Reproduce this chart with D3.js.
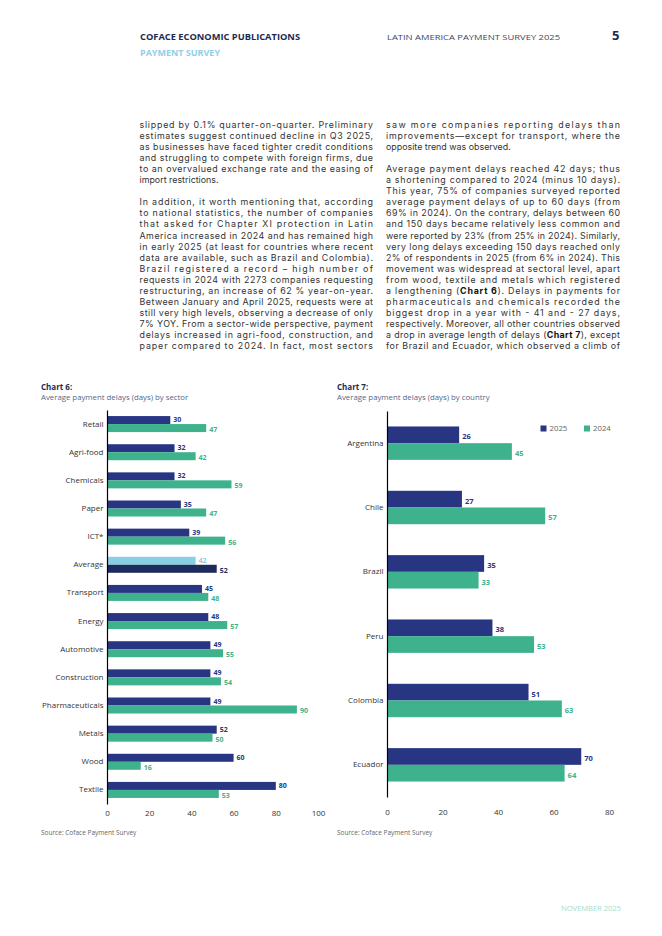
<!doctype html>
<html>
<head>
<meta charset="utf-8">
<style>
  body { margin: 0; background: #fff; }
</style>
<script src="https://d3js.org/d3.v7.min.js"></script>
</head>
<body>
<svg width="662" height="936" font-family="'Open Sans', 'DejaVu Sans', sans-serif"></svg>
<script>
// ---- data ----
var sectors = ["Retail", "Agri-food", "Chemicals", "Paper", "ICT*", "Average", "Transport",
  "Energy", "Automotive", "Construction", "Pharmaceuticals", "Metals", "Wood", "Textile"];
var sector2025 = [30, 32, 32, 35, 39, 42, 45, 48, 49, 49, 49, 52, 60, 80];
var sector2024 = [47, 42, 59, 47, 56, 52, 48, 57, 55, 54, 90, 50, 16, 53];
var sectorTicks = [0, 20, 40, 60, 80, 100];

var countries = ["Argentina", "Chile", "Brazil", "Peru", "Colombia", "Ecuador"];
var country2025 = [26, 27, 35, 38, 51, 70];
var country2024 = [45, 57, 33, 53, 63, 64];
var countryTicks = [0, 20, 40, 60, 80];

var years = ["2025", "2024"];

var leftColumn = [
  "slipped by 0.1% quarter-on-quarter. Preliminary",
  "estimates suggest continued decline in Q3 2025,",
  "as businesses have faced tighter credit conditions",
  "and struggling to compete with foreign firms, due",
  "to an overvalued exchange rate and the easing of",
  "import restrictions.",
  "",
  "In addition, it worth mentioning that, according",
  "to national statistics, the number of companies",
  "that asked for Chapter XI protection in Latin",
  "America increased in 2024 and has remained high",
  "in early 2025 (at least for countries where recent",
  "data are available, such as Brazil and Colombia).",
  "Brazil registered a record \u2013 high number of",
  "requests in 2024 with 2273 companies requesting",
  "restructuring, an increase of 62 % year-on-year.",
  "Between January and April 2025, requests were at",
  "still very high levels, observing a decrease of only",
  "7% YOY.  From a sector-wide perspective, payment",
  "delays increased in agri-food, construction, and",
  "paper compared to 2024. In fact, most sectors"
];
var rightColumn = [
  "saw more companies reporting delays than",
  "improvements\u2014except for transport, where the",
  "opposite trend was observed.",
  "",
  "Average payment delays reached 42 days; thus",
  "a shortening compared to 2024 (minus 10 days).",
  "This year, 75% of companies surveyed reported",
  "average payment delays of up to 60 days (from",
  "69% in 2024). On the contrary, delays between 60",
  "and 150 days became relatively less common and",
  "were reported by 23% (from 25% in 2024). Similarly,",
  "very long delays exceeding 150 days reached only",
  "2% of respondents in 2025 (from 6% in 2024). This",
  "movement was widespread at sectoral level, apart",
  "from wood, textile and metals which registered",
  "a lengthening (**Chart 6**). Delays in payments for",
  "pharmaceuticals and chemicals recorded the",
  "biggest drop in a year with - 41 and - 27 days,",
  "respectively. Moreover, all other countries observed",
  "a drop in average length of delays (**Chart 7**), except",
  "for Brazil and Ecuador, which observed a climb of"
];

// ---- colours ----
var navy = "#283583", green = "#3db28c", avgLight = "#86cfe4", avgDark = "#1d2b5c";
var ink = "#1d2a52", body = "#333333";

var svg = d3.select("svg");

// ---- header ----
svg.append("text").attr("x", 140).attr("y", 39.5).text("COFACE ECONOMIC PUBLICATIONS")
  .attr("font-size", 8).attr("font-weight", 700).attr("fill", ink)
  .attr("textLength", 160).attr("lengthAdjust", "spacingAndGlyphs");
svg.append("text").attr("x", 140).attr("y", 55.5).text("PAYMENT SURVEY")
  .attr("font-size", 8).attr("font-weight", 700).attr("fill", "#8fd0e8")
  .attr("textLength", 80).attr("lengthAdjust", "spacingAndGlyphs");
svg.append("text").attr("x", 387).attr("y", 39.5).text("LATIN AMERICA PAYMENT SURVEY 2025")
  .attr("font-size", 8).attr("fill", "#3b4766")
  .attr("textLength", 173).attr("lengthAdjust", "spacingAndGlyphs");
svg.append("text").attr("x", 612).attr("y", 39.5).text("5")
  .attr("font-size", 13).attr("font-weight", 700).attr("fill", ink);

// ---- body text (justified with textLength, except paragraph ends) ----
function column(lines, x, width) {
  var g = svg.append("g").attr("font-size", 8.9).attr("fill", body)
    .attr("font-family", "Inter, 'Open Sans', sans-serif");
  lines.forEach(function(line, i) {
    if (!line) return;
    var t = g.append("text").attr("x", x).attr("y", 128 + i * 11.05);
    line.split(/(\*\*[^*]+\*\*)/).forEach(function(part) {
      if (!part) return;
      var bold = part.indexOf("**") === 0;
      t.append("tspan").attr("font-weight", bold ? 700 : null).attr("fill", bold ? "#111" : null)
        .text(bold ? part.slice(2, -2) : part);
    });
    if (lines[i + 1] !== "") t.attr("textLength", width).attr("lengthAdjust", "spacing");
  });
}
column(leftColumn, 139.5, 233.5);
column(rightColumn, 386, 234);

// ---- generic grouped horizontal bar chart ----
function barChart(o) {
  var g = svg.append("g");
  g.append("text").attr("x", o.left).attr("y", 390).text(o.title)
    .attr("font-size", 8).attr("font-weight", 700).attr("fill", ink);
  g.append("text").attr("x", o.left).attr("y", 399.5).text(o.subtitle)
    .attr("font-size", 7.8).attr("fill", "#566789");

  var x = d3.scaleLinear().domain(o.domain).range(o.xRange);
  var y = d3.scaleBand().domain(o.cats).range(o.yRange);
  var sub = d3.scaleBand().domain(years).range([-o.pair / 2, o.pair / 2]);

  var rows = o.cats.map(function(c, i) {
    return { name: c, values: [{ year: "2025", v: o.v25[i] }, { year: "2024", v: o.v24[i] }] };
  });

  var row = g.selectAll("g.row").data(rows).enter().append("g").attr("class", "row")
    .attr("transform", function(d) { return "translate(0," + (y(d.name) + y.bandwidth() / 2) + ")"; });

  row.selectAll("rect").data(function(d) { return d.values.map(function(v) { v.row = d.name; return v; }); })
    .enter().append("rect")
    .attr("x", x(0)).attr("y", function(d) { return sub(d.year); })
    .attr("width", function(d) { return x(d.v) - x(0); })
    .attr("height", sub.bandwidth())
    .attr("fill", function(d) { return o.color(d); });

  row.selectAll("text.val").data(function(d) { return d.values; })
    .enter().append("text").attr("class", "val")
    .attr("x", function(d) { return x(d.v) + 3; })
    .attr("y", function(d) { return sub(d.year) + sub.bandwidth() / 2 + o.labelShift[d.year]; })
    .attr("dy", "0.35em")
    .attr("font-size", o.valueSize).attr("font-weight", 700)
    .attr("fill", function(d) { return o.color(d); })
    .text(function(d) { return d.v; });

  var yAxis = g.append("g").attr("transform", "translate(" + x(0) + ",0)")
    .call(d3.axisLeft(y).tickSize(0).tickSizeOuter(0).tickPadding(3.5));
  yAxis.select(".domain").attr("stroke", "#000").attr("stroke-width", 1.2);
  yAxis.attr("font-family", null).attr("font-size", 8);
  yAxis.selectAll("text").attr("fill", "#333");

  var xAxis = g.append("g").attr("transform", "translate(0," + o.yRange[1] + ")")
    .call(d3.axisBottom(x).tickValues(o.ticks).tickSize(0).tickPadding(o.tickPad));
  xAxis.select(".domain").remove();
  xAxis.attr("font-family", null).attr("font-size", 8);
  xAxis.selectAll("text").attr("fill", "#333");

  g.append("text").attr("x", o.left).attr("y", 835).text("Source: Coface Payment Survey")
    .attr("font-size", 6.5).attr("fill", "#666");
  return { x: x, y: y };
}

barChart({
  left: 41, title: "Chart 6:", subtitle: "Average payment delays (days) by sector",
  cats: sectors, v25: sector2025, v24: sector2024, ticks: sectorTicks,
  domain: [0, 100], xRange: [107, 318], yRange: [410, 804], pair: 16,
  labelShift: { "2025": -0.4, "2024": 1.5 }, valueSize: 7,
  tickPad: 6,
  color: function(d) {
    if (d.row === "Average") return d.year === "2025" ? avgLight : avgDark;
    return d.year === "2025" ? navy : green;
  }
});

barChart({
  left: 337, title: "Chart 7:", subtitle: "Average payment delays (days) by country",
  cats: countries, v25: country2025, v24: country2024, ticks: countryTicks,
  domain: [0, 80], xRange: [387, 609], yRange: [411, 797], pair: 33.4,
  labelShift: { "2025": 2, "2024": 2 }, valueSize: 7.5,
  tickPad: 12,
  color: function(d) { return d.year === "2025" ? navy : green; }
});

// legend chart 7
var legend = svg.append("g").selectAll("g").data(years).enter().append("g")
  .attr("transform", function(d, i) { return "translate(" + (540.5 + i * 43.5) + ",425.5)"; });
legend.append("rect").attr("width", 6).attr("height", 6)
  .attr("fill", function(d) { return d === "2025" ? navy : green; });
legend.append("text").attr("x", 9).attr("y", 3).attr("dy", "0.35em").text(function(d) { return d; })
  .attr("font-size", 7.8).attr("fill", "#666");

// footer
svg.append("text").attr("x", 561).attr("y", 911).text("NOVEMBER 2025")
  .attr("font-size", 6.5).attr("fill", "#a6dccb")
  .attr("textLength", 60).attr("lengthAdjust", "spacingAndGlyphs");
</script>
</body>
</html>
